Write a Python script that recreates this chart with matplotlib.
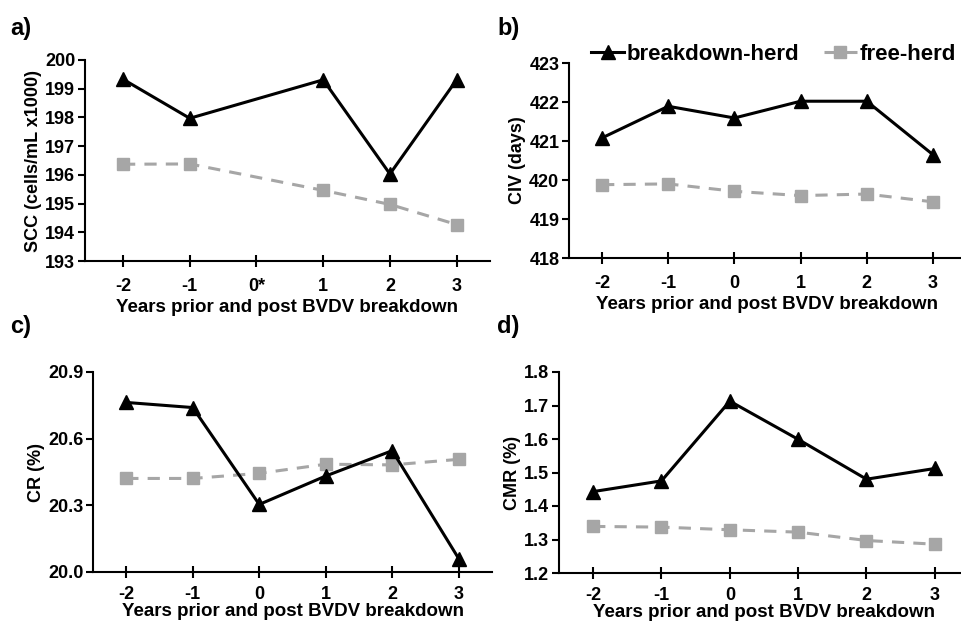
import numpy as np
import matplotlib
matplotlib.use("Agg")
import matplotlib.pyplot as plt

plt.rcParams['font.family'] = ['Liberation Sans', 'DejaVu Sans']
plt.rcParams['font.weight'] = 'bold'

# ---------------------- Data ----------------------
years = ["-2", "-1", "0", "1", "2", "3"]
years_a = ["-2", "-1", "0*", "1", "2", "3"]

# panel a: no value at year 0*
scc_break = [199.33, 197.97, None, 199.31, 196.03, 199.31]
scc_free = [196.37, 196.38, None, 195.46, 194.97, 194.27]

civ_break = [421.08, 421.89, 421.59, 422.02, 422.02, 420.65]
civ_free = [419.88, 419.90, 419.71, 419.60, 419.64, 419.44]

cr_break = [20.763, 20.740, 20.304, 20.432, 20.546, 20.060]
cr_free = [20.421, 20.421, 20.444, 20.485, 20.482, 20.507]

cmr_break = [1.443, 1.475, 1.713, 1.599, 1.480, 1.512]
cmr_free = [1.339, 1.337, 1.329, 1.322, 1.297, 1.286]

W, H = 962, 624
GRAY = '#A6A6A6'

fig = plt.figure(figsize=(W / 100, H / 100), dpi=100)


def px_axes(left, top, right, bottom):
    return fig.add_axes([left / W, 1 - bottom / H, (right - left) / W, (bottom - top) / H])


def draw_panel(ax, brk, free, labels, yticks, ylim, ylabel, fmt, xpad=8, xlabelpad=3):
    x = np.arange(len(labels))
    xb = [i for i, v in zip(x, brk) if v is not None]
    yb = [v for v in brk if v is not None]
    xf = [i for i, v in zip(x, free) if v is not None]
    yf = [v for v in free if v is not None]
    l1, = ax.plot(xb, yb, color='black', lw=2.2, marker='^', ms=9.5, label='breakdown-herd', zorder=3)
    l2, = ax.plot(xf, yf, color=GRAY, lw=2.2, ls=(0, (4, 3)), marker='s', ms=8.5,
                  label='free-herd', zorder=2)
    ax.set_xlim(-0.5, len(labels) - 0.5)
    ax.set_ylim(*ylim)
    ax.set_xticks(x)
    ax.set_xticklabels(labels)
    ax.set_yticks(yticks)
    ax.set_yticklabels([fmt.format(t) for t in yticks])
    for s in ['top', 'right']:
        ax.spines[s].set_visible(False)
    for s in ['left', 'bottom']:
        ax.spines[s].set_linewidth(1.5)
    ax.tick_params(axis='x', direction='inout', length=8, width=1.5, labelsize=13, pad=xpad)
    ax.tick_params(axis='y', direction='out', length=5, width=1.5, labelsize=13, pad=2)
    ax.set_xlabel('Years prior and post BVDV breakdown', fontsize=13.5, fontweight='bold',
                  labelpad=xlabelpad)
    ax.set_ylabel(ylabel, fontsize=13, fontweight='bold', labelpad=2)
    ax.patch.set_alpha(0)
    return l1, l2


ax_a = px_axes(85, 60, 490, 261)
draw_panel(ax_a, scc_break, scc_free, years_a, np.arange(193, 201, 1), (193, 200),
           'SCC (cells/mL x1000)', '{:.0f}')
ax_a.set_xlim(-0.57, 5.5)

ax_b = px_axes(569, 63, 966, 258)
h1, h2 = draw_panel(ax_b, civ_break, civ_free, years, np.arange(418, 424, 1), (418, 423),
                    'CIV (days)', '{:.0f}')

# bottom row: labels sit right at the lower edge
ax_c = px_axes(93, 372, 492, 572)
draw_panel(ax_c, cr_break, cr_free, years, [20.0, 20.3, 20.6, 20.9], (20.0, 20.9),
           'CR (%)', '{:.1f}', xpad=6, xlabelpad=0)

ax_d = px_axes(559, 372, 969, 573)
draw_panel(ax_d, cmr_break, cmr_free, years, np.round(np.arange(1.2, 1.81, 0.1), 1), (1.2, 1.8),
           'CMR (%)', '{:.1f}', xpad=6, xlabelpad=0)

# legend above panel b
fig.legend([h1, h2], ['breakdown-herd', 'free-herd'], loc='center left',
           bbox_to_anchor=(591 / W, 1 - 54 / H), ncol=2, frameon=False,
           prop={'size': 16, 'weight': 'bold'}, handlelength=1.5, handletextpad=0.1,
           columnspacing=1.1, borderpad=0, borderaxespad=0)

# panel letters
for lbl, (x, y) in zip(['a)', 'b)', 'c)', 'd)'], [(10, 29), (497, 29), (10, 327), (497, 327)]):
    fig.text(x / W, 1 - y / H, lbl, fontsize=17, fontweight='bold', va='center', ha='left')

fig.savefig('out.png', dpi=100)
